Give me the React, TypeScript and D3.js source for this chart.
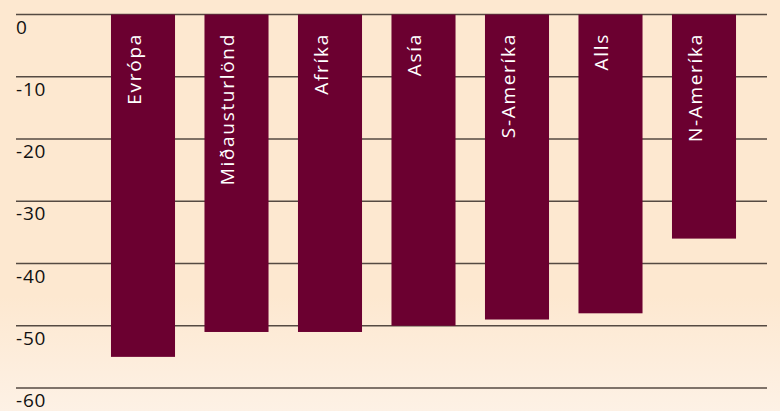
import React from "react";
import * as d3 from "d3";

const categories = ["Evrópa", "Miðausturlönd", "Afríka", "Asía", "S-Ameríka", "Alls", "N-Ameríka"];
const values = [-55, -51, -51, -50, -49, -48, -36];
const ticks = [0, -10, -20, -30, -40, -50, -60];

const W = 780;
const H = 411;

export default function App() {
  const y = d3.scaleLinear().domain([0, -60]).range([14.5, 388]);
  const x = d3
    .scaleBand<string>()
    .domain(categories)
    .range([96.25, 750.75])
    .paddingInner(0.315)
    .paddingOuter(0.1575);
  const font = "'Open Sans', sans-serif";
  return (
    <div style={{ position: "fixed", left: 0, top: 0 }}>
      <svg width={W} height={H} style={{ display: "block" }}>
        <defs>
          <linearGradient id="bg" x1="0" y1="0" x2="0" y2="1">
            <stop offset="0" stopColor="#fde8d0" />
            <stop offset="0.72" stopColor="#fde8d0" />
            <stop offset="1" stopColor="#fdf1e5" />
          </linearGradient>
        </defs>
        <rect x={0} y={0} width={W} height={H} fill="url(#bg)" />
        {ticks.map((t) => (
          <g key={t}>
            <line x1={16} x2={767} y1={y(t)} y2={y(t)} stroke="#554a42" strokeWidth={1.6} />
            <text x={16} y={y(t) + 19} fontFamily={font} fontSize={19} letterSpacing={0.8} fill="#111">
              {t === 0 ? "0" : String(t)}
            </text>
          </g>
        ))}
        {categories.map((c, i) => {
          const bx = x(c) as number;
          return (
            <g key={c}>
              <rect x={bx} y={y(0)} width={x.bandwidth()} height={y(values[i]) - y(0)} fill="#6b0030" />
              <text
                transform={`translate(${bx + 30},33) rotate(-90)`}
                textAnchor="end"
                fontFamily={font}
                fontSize={19}
                letterSpacing={1.7}
                fill="#ffffff"
              >
                {c}
              </text>
            </g>
          );
        })}
      </svg>
    </div>
  );
}
